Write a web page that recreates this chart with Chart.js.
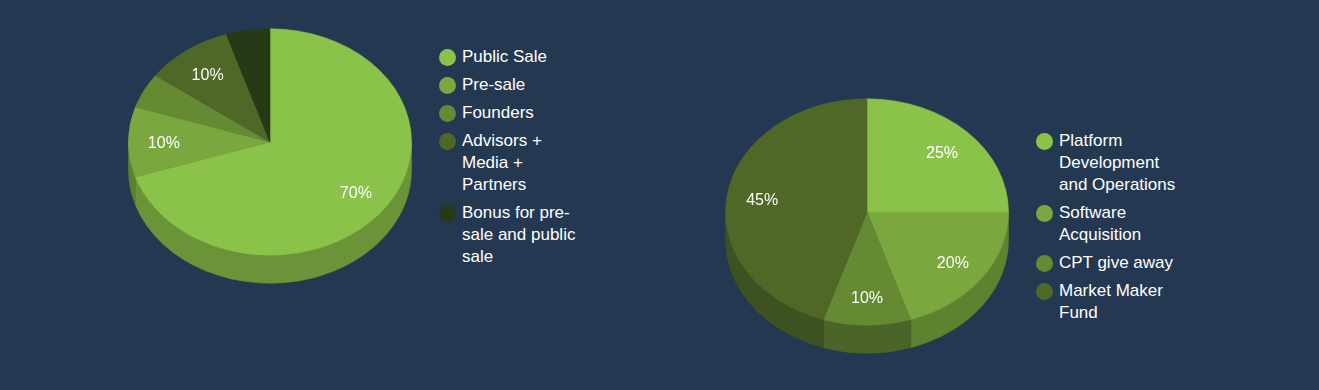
<!DOCTYPE html>
<html><head><meta charset="utf-8">
<script src="https://cdn.jsdelivr.net/npm/chart.js@4.4.1/dist/chart.umd.min.js"></script>
<style>
html,body{margin:0;padding:0;width:1319px;height:390px;overflow:hidden;background:#243851;font-family:"Liberation Sans",Arial,sans-serif;}
.wrap{position:absolute;width:300px;height:300px;}
.legend{position:absolute;color:#fff;font-size:17px;line-height:22px;}
.item{display:flex;align-items:flex-start;margin-bottom:6px;}
.dot{width:17px;height:17px;border-radius:50%;margin-top:2.5px;margin-right:6px;flex:none;}
.txt{width:124px;}
</style></head><body>
<div class="wrap" style="left:119.5px;top:-8px"><canvas id="c1" width="300" height="300"></canvas></div>
<div class="legend" id="l1" style="left:439px;top:46px"></div>
<div class="wrap" style="left:716.5px;top:62px"><canvas id="c2" width="300" height="300"></canvas></div>
<div class="legend" id="l2" style="left:1036px;top:130px"></div>
<script>
// ---- data ----
const tokenLabels = ["Public Sale", "Pre-sale", "Founders", "Advisors + Media + Partners", "Bonus for pre-sale and public sale"];
const tokenValues = [70, 10, 5, 10, 5];
const fundLabels = ["Platform Development and Operations", "Software Acquisition", "CPT give away", "Market Maker Fund"];
const fundValues = [25, 20, 10, 45];

// ---- styles ----
const topColors1 = ['#8BC34A', '#7BA83E', '#658A33', '#4F6827', '#283A15'];
const sideColors1 = ['#6A9437', '#5E812F', '#4D6927', '#3C4F1E', '#1F2C10'];
const topColors2 = ['#8BC34A', '#7BA83E', '#658A33', '#4F6827'];
const sideColors2 = ['#66902F', '#5E8230', '#4B6427', '#3D5121'];

const pie3d = {
  id: 'pie3d',
  beforeDatasetsDraw(chart, args, opts) {
    const ctx = chart.ctx;
    const meta = chart.getDatasetMeta(0);
    const tops = chart.data.datasets[0].backgroundColor;
    const ratio = opts.ratio, depth = opts.depth;
    ctx.save();
    meta.data.forEach((arc, i) => {
      const p = arc.getProps(['x', 'y', 'startAngle', 'endAngle', 'outerRadius'], true);
      const ry = p.outerRadius * ratio;
      for (let k = -1; k <= 1; k++) {
        const a = Math.max(p.startAngle, 2 * Math.PI * k);
        const b = Math.min(p.endAngle, 2 * Math.PI * k + Math.PI);
        if (b > a) {
          ctx.beginPath();
          ctx.ellipse(p.x, p.y, p.outerRadius, ry, 0, a, b, false);
          ctx.ellipse(p.x, p.y + depth, p.outerRadius, ry, 0, b, a, true);
          ctx.closePath();
          ctx.fillStyle = opts.sideColors[i];
          ctx.fill();
          ctx.strokeStyle = opts.sideColors[i];
          ctx.lineWidth = 0.6;
          ctx.stroke();
        }
      }
    });
    meta.data.forEach((arc, i) => {
      const p = arc.getProps(['x', 'y', 'startAngle', 'endAngle', 'outerRadius'], true);
      const ry = p.outerRadius * ratio;
      ctx.beginPath();
      ctx.moveTo(p.x, p.y);
      ctx.ellipse(p.x, p.y, p.outerRadius, ry, 0, p.startAngle, p.endAngle, false);
      ctx.closePath();
      ctx.fillStyle = tops[i];
      ctx.fill();
      ctx.strokeStyle = tops[i];
      ctx.lineWidth = 0.6;
      ctx.stroke();
    });
    ctx.restore();
    return false;
  },
  afterDraw(chart, args, opts) {
    const ctx = chart.ctx;
    const meta = chart.getDatasetMeta(0);
    const vals = chart.data.datasets[0].data;
    ctx.save();
    ctx.font = '16px "Liberation Sans", Arial, sans-serif';
    ctx.fillStyle = '#ffffff';
    ctx.textAlign = 'center';
    ctx.textBaseline = 'middle';
    meta.data.forEach((arc, i) => {
      if (vals[i] < opts.minLabel) return;
      const p = arc.getProps(['x', 'y', 'startAngle', 'endAngle', 'outerRadius'], true);
      const mid = (p.startAngle + p.endAngle) / 2;
      const k = 0.75;
      ctx.fillText(vals[i] + '%', p.x + Math.cos(mid) * p.outerRadius * k, p.y + 2 + Math.sin(mid) * p.outerRadius * opts.ratio * k);
    });
    ctx.restore();
  }
};

function makePie(id, legendId, labels, values, tops, sides) {
  const chart = new Chart(document.getElementById(id), {
    type: 'pie',
    data: { labels: labels, datasets: [{ data: values, backgroundColor: tops, borderWidth: 0 }] },
    options: {
      responsive: false,
      animation: false,
      layout: { padding: 8.5 },
      events: [],
      plugins: {
        legend: { display: false },
        tooltip: { enabled: false },
        pie3d: { ratio: 0.8, depth: 28, sideColors: sides, minLabel: 10 }
      }
    },
    plugins: [pie3d]
  });
  const items = Chart.overrides.pie.plugins.legend.labels.generateLabels(chart);
  const box = document.getElementById(legendId);
  items.forEach(it => {
    const row = document.createElement('div');
    row.className = 'item';
    const dot = document.createElement('div');
    dot.className = 'dot';
    dot.style.background = it.fillStyle;
    const t = document.createElement('div');
    t.className = 'txt';
    t.textContent = it.text;
    row.appendChild(dot); row.appendChild(t);
    box.appendChild(row);
  });
  return chart;
}
makePie('c1', 'l1', tokenLabels, tokenValues, topColors1, sideColors1);
makePie('c2', 'l2', fundLabels, fundValues, topColors2, sideColors2);
</script>
</body></html>
